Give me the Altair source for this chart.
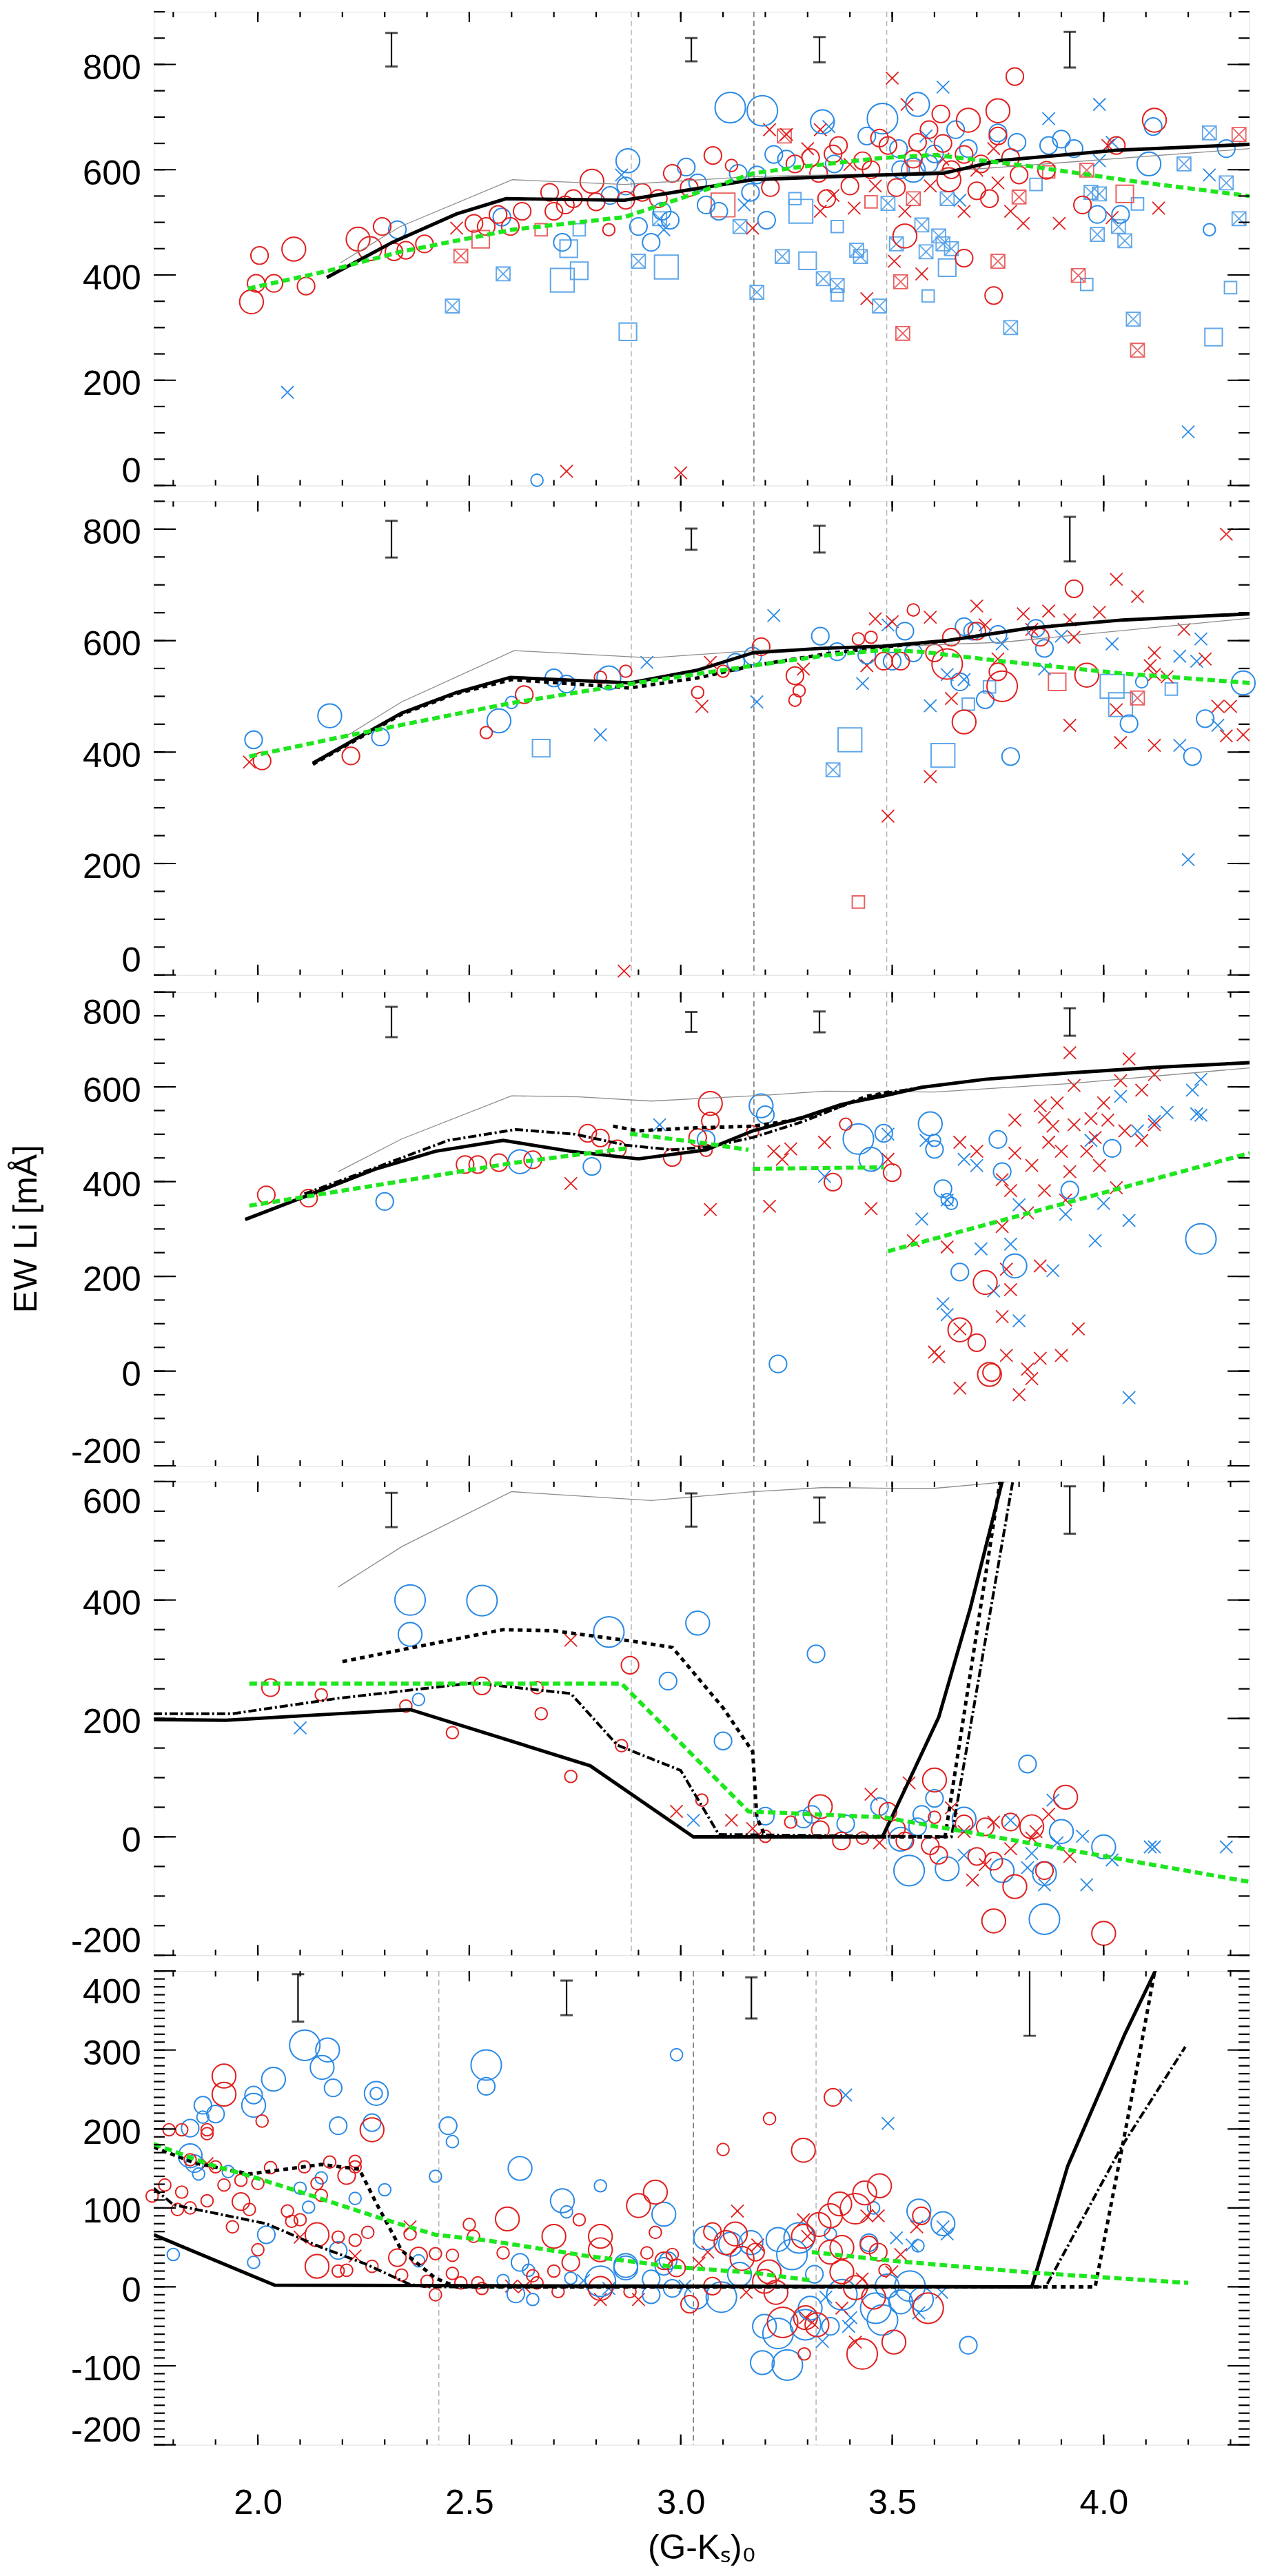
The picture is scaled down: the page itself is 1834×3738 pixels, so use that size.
import altair as alt
import pandas as pd

FONT = "Liberation Sans"
X_DOMAIN = [1.754, 4.345]
W, H = 1596, 690

RED = "#e0201f"
BLUE = "#2a8ae6"
LBLUE = "#4f9ee8"
LRED = "#e85050"
GREEN = "#1ee61e"

X_MAJOR = [2.0, 2.5, 3.0, 3.5, 4.0]
X_MINOR = [round(1.8 + 0.1 * i, 1) for i in range(26)]
Y_TITLE = "EW Li [mÅ]"
X_TITLE = "(G-Kₛ)₀"

# ---------------- panel 1 ----------------
P1_YDOM = [0, 900]
P1_VX = [2.883, 3.173, 3.487]
P1_ERR_X = [2.316, 3.025, 3.328, 3.92]
P1_ERR_C = [828, 828, 828, 828]
P1_ERR_H = [32, 22, 24, 34]
P1_RED_CIRC = [
    (1.985, 349, 3), (1.996, 384, 2), (2.004, 437, 2), (2.038, 384, 2), (2.085, 449, 3), (2.114, 379, 2),
    (2.237, 468, 3), (2.265, 450, 3), (2.294, 492, 2), (2.322, 444, 2), (2.35, 447, 2), (2.394, 459, 2),
    (2.511, 498, 2), (2.54, 492, 2), (2.568, 515, 2), (2.597, 492, 2), (2.625, 521, 2), (2.69, 557, 2),
    (2.70, 521, 2), (2.727, 533, 2), (2.746, 545, 2), (2.79, 578, 3), (2.80, 539, 2), (2.83, 486, 1),
    (2.87, 542, 2), (2.909, 557, 2), (2.947, 545, 2), (2.98, 593, 2), (3.02, 566, 2), (3.076, 627, 2),
    (3.12, 608, 1), (3.212, 566, 2), (3.27, 611, 2), (3.307, 623, 2), (3.326, 593, 2), (3.345, 545, 2),
    (3.373, 646, 2), (3.40, 569, 2), (3.43, 617, 2), (3.49, 646, 2), (3.51, 566, 2), (3.53, 474, 3),
    (3.56, 652, 2), (3.587, 676, 2), (3.615, 706, 2), (3.634, 581, 3), (3.67, 629, 2), (3.68, 694, 3),
    (3.71, 611, 2), (3.73, 545, 2), (3.75, 664, 2), (3.75, 712, 3), (3.78, 623, 2), (3.79, 777, 2),
    (3.74, 361, 2), (3.67, 432, 2), (3.865, 599, 2), (3.95, 533, 2), (4.12, 694, 3), (4.03, 646, 2),
    (3.36, 630, 2), (3.45, 600, 2), (3.62, 650, 2), (3.70, 560, 2), (3.80, 590, 2), (3.64, 600, 2),
    (3.55, 620, 2), (3.47, 660, 2),
]
P1_BLUE_CIRC = [
    (2.33, 486, 2), (2.577, 510, 2), (2.72, 462, 2), (2.833, 551, 2), (2.87, 569, 2), (2.875, 617, 3),
    (2.9, 492, 2), (2.93, 462, 2), (2.956, 521, 2), (2.975, 504, 2), (3.013, 605, 2), (3.04, 575, 2),
    (3.06, 533, 2), (3.09, 521, 2), (3.117, 718, 4), (3.136, 593, 2), (3.165, 557, 2), (3.193, 712, 4),
    (3.203, 504, 2), (3.22, 629, 2), (3.335, 691, 3), (3.363, 611, 2), (3.44, 664, 2), (3.477, 697, 4),
    (3.515, 640, 2), (3.55, 599, 3), (3.56, 724, 3), (3.587, 611, 2), (3.65, 676, 2), (3.75, 670, 2),
    (3.795, 652, 2), (3.87, 646, 2), (3.9, 658, 2), (3.93, 640, 2), (3.985, 515, 2), (4.04, 515, 2),
    (4.107, 611, 3), (4.117, 682, 2), (4.25, 486, 1), (4.29, 640, 2), (2.66, 10, 1),
    (3.18, 590, 2), (3.25, 620, 2), (3.60, 630, 2), (3.68, 640, 2), (3.52, 600, 2),
]
P1_RED_X = [
    (2.47, 489), (2.73, 27), (3.0, 24), (3.17, 489), (3.25, 667), (3.33, 676), (3.33, 521), (3.36, 551),
    (3.41, 527), (3.44, 355), (3.5, 774), (3.505, 426), (3.535, 724), (3.53, 521), (3.57, 402), (3.59, 569),
    (3.67, 521), (3.70, 599), (3.75, 575), (3.78, 521), (3.81, 498), (3.895, 498), (4.01, 646), (4.02, 509),
    (4.13, 527), (3.21, 676), (3.46, 569), (3.74, 640), (3.30, 640), (3.62, 620), (3.40, 610),
]
P1_BLUE_X = [
    (2.07, 177), (3.62, 757), (3.99, 724), (3.87, 697), (4.2, 102), (4.25, 590), (4.02, 652), (3.66, 542),
    (2.96, 486), (3.35, 682), (3.58, 664), (2.86, 590), (3.15, 533), (3.99, 617),
]
P1_BLUE_SQ = [
    (2.72, 390, 3), (2.76, 408, 2), (2.735, 450, 2), (2.76, 486, 1), (2.875, 292, 2), (2.966, 415, 3),
    (3.284, 521, 3), (3.30, 427, 2), (3.37, 492, 1), (3.37, 362, 1), (3.585, 360, 1), (3.63, 414, 2),
    (3.84, 572, 1), (3.96, 382, 1), (4.08, 535, 1), (4.26, 282, 2), (4.3, 376, 1), (3.27, 545, 1),
]
P1_BLUE_SQX = [
    (2.46, 341), (2.58, 402), (2.90, 426), (2.95, 507), (3.14, 492), (3.18, 367), (3.24, 435), (3.337, 393),
    (3.37, 380), (3.416, 447), (3.425, 435), (3.47, 341), (3.49, 536), (3.51, 459), (3.57, 495), (3.58, 444),
    (3.61, 474), (3.62, 459), (3.64, 450), (3.63, 545), (3.78, 300), (3.97, 557), (3.99, 554), (3.985, 477),
    (4.035, 492), (4.05, 465), (4.07, 316), (4.19, 611), (4.25, 670), (4.29, 575), (4.32, 507),
]
P1_RED_SQ = [(2.527, 468, 2), (3.45, 539, 1), (4.05, 554, 2), (3.10, 533, 3), (3.87, 596, 1), (3.55, 605, 1), (2.67, 486, 1)]
P1_RED_SQX = [(2.48, 436), (3.245, 664), (3.52, 387), (3.525, 289), (3.55, 545), (3.75, 426), (3.80, 548),
              (3.94, 399), (4.08, 257), (4.32, 667), (3.96, 599)]
P1_SOLID_X = [2.163, 2.318, 2.47, 2.587, 2.867, 3.17, 3.47, 3.62, 3.75, 4.03, 4.345]
P1_SOLID_Y = [395, 462, 516, 545, 542, 581, 590, 593, 617, 637, 648]
P1_GRAY_X = [2.195, 2.337, 2.602, 2.867, 3.17, 3.47, 3.66, 4.345]
P1_GRAY_Y = [423, 492, 581, 572, 587, 592, 599, 640]
P1_GREEN = [([1.977, 2.167, 2.337, 2.602, 2.867, 3.02, 3.17, 3.28, 3.47, 3.6, 3.75, 3.84, 4.07, 4.345],
             [374, 408, 444, 486, 510, 551, 593, 605, 622, 628, 614, 605, 578, 550])]

# ---------------- panel 2 ----------------
P2_YDOM = [0, 850]
P2_VX = [2.883, 3.173, 3.487]
P2_ERR_X = [2.316, 3.025, 3.328, 3.92]
P2_ERR_C = [782, 782, 782, 782]
P2_ERR_H = [33, 19, 24, 40]
P2_RED_CIRC = [
    (2.01, 384, 2), (2.22, 393, 2), (2.54, 435, 1), (2.63, 503, 2), (2.81, 534, 1), (2.87, 545, 1),
    (3.04, 507, 1), (3.1, 545, 1), (3.19, 589, 2), (3.27, 537, 2), (3.27, 493, 1), (3.28, 510, 1),
    (3.42, 603, 1), (3.45, 606, 1), (3.48, 563, 2), (3.52, 563, 2), (3.55, 655, 1), (3.63, 558, 4),
    (3.64, 606, 2), (3.67, 454, 3), (3.70, 617, 2), (3.76, 518, 4), (3.75, 544, 2), (3.85, 606, 2),
    (3.93, 693, 2), (3.96, 538, 3), (3.6, 578, 2),
]
P2_BLUE_CIRC = [
    (1.99, 422, 2), (2.17, 465, 3), (2.29, 427, 2), (2.57, 456, 3), (2.6, 489, 1), (2.70, 533, 2),
    (2.73, 522, 2), (2.83, 533, 3), (3.13, 561, 2), (3.17, 572, 2), (3.33, 608, 2), (3.37, 580, 2),
    (3.44, 574, 2), (3.5, 563, 2), (3.53, 617, 2), (3.55, 578, 2), (3.66, 526, 2), (3.67, 625, 2),
    (3.72, 494, 2), (3.75, 611, 2), (3.84, 622, 2), (3.86, 586, 2), (4.06, 451, 2), (4.09, 526, 1),
    (4.21, 392, 2), (4.24, 460, 2), (4.33, 524, 3), (3.78, 392, 2), (3.69, 617, 2),
]
P2_RED_X = [
    (1.98, 382), (2.866, 7), (3.05, 482), (3.07, 561), (3.29, 549), (3.44, 555), (3.46, 639), (3.5, 634),
    (3.59, 356), (3.49, 285), (3.59, 642), (3.64, 496), (3.70, 662), (3.72, 628), (3.75, 567), (3.81, 648),
    (3.83, 620), (3.87, 653), (3.92, 637), (3.92, 448), (3.93, 606), (3.99, 651), (4.03, 710), (4.03, 476),
    (4.04, 417), (4.08, 679), (4.12, 578), (4.11, 555), (4.12, 412), (4.15, 535), (4.19, 620), (4.24, 567),
    (4.27, 482), (4.29, 791), (4.30, 482), (4.33, 431), (4.29, 429), (4.12, 539),
]
P2_BLUE_X = [
    (2.81, 431), (2.92, 561), (3.18, 490), (3.22, 645), (3.43, 523), (3.49, 628), (3.59, 483), (3.63, 539),
    (3.67, 530), (3.76, 594), (3.86, 549), (3.9, 608), (4.02, 594), (4.18, 572), (4.18, 412), (4.23, 603),
    (4.2, 207), (4.27, 448), (4.22, 563),
]
P2_BLUE_SQ = [(2.67, 407, 2), (3.4, 422, 3), (3.62, 394, 3), (3.68, 486, 1), (3.73, 517, 1), (4.02, 518, 3),
              (4.04, 485, 3), (4.16, 513, 1)]
P2_BLUE_SQX = [(3.36, 368)]
P2_RED_SQ = [(3.89, 526, 2), (3.42, 131, 1)]
P2_RED_SQX = [(4.08, 497)]
P2_SOLID_X = [2.13, 2.34, 2.47, 2.597, 2.88, 3.04, 3.17, 3.33, 3.477, 3.63, 3.82, 4.045, 4.345]
P2_SOLID_Y = [380, 470, 507, 534, 524, 547, 578, 586, 590, 600, 622, 637, 648]
P2_DOT_X = [2.13, 2.34, 2.47, 2.6, 2.88, 3.04, 3.17, 3.36, 3.5, 3.63]
P2_DOT_Y = [378, 468, 505, 530, 515, 533, 555, 578, 590, 600]
P2_GRAY_X = [2.21, 2.34, 2.606, 2.93, 3.19, 3.48, 3.76, 4.345]
P2_GRAY_Y = [429, 490, 582, 569, 583, 589, 597, 640]
P2_GREEN = [([1.98, 2.19, 2.6, 2.87, 3.17, 3.36, 3.48, 3.57, 3.76, 4.045, 4.345],
             [392, 426, 488, 521, 555, 575, 583, 580, 563, 541, 524])]

# ---------------- panel 3 ----------------
P3_YDOM = [-200, 800]
P3_VX = [2.883, 3.173, 3.487]
P3_ERR_X = [2.316, 3.025, 3.328, 3.92]
P3_ERR_C = [737, 737, 737, 737]
P3_ERR_H = [32, 21, 22, 29]
P3_RED_CIRC = [
    (2.02, 372, 2), (2.12, 365, 2), (2.49, 436, 2), (2.52, 436, 2), (2.57, 440, 2), (2.65, 446, 2),
    (2.78, 502, 2), (2.81, 492, 2), (2.85, 469, 2), (2.98, 451, 2), (3.04, 493, 2), (3.07, 565, 3),
    (3.07, 528, 2), (3.06, 466, 1), (3.17, 505, 1), (3.39, 521, 1), (3.36, 399, 2), (3.5, 419, 2),
    (3.66, 87, 3), (3.70, 60, 2), (3.72, 187, 3), (3.73, -7, 3), (3.735, -3, 2),
]
P3_BLUE_CIRC = [
    (2.3, 358, 2), (2.62, 442, 3), (2.79, 432, 2), (3.06, 489, 2), (3.19, 560, 3), (3.2, 541, 2),
    (3.23, 15, 2), (3.42, 490, 4), (3.45, 447, 3), (3.48, 502, 2), (3.59, 522, 3), (3.6, 487, 1),
    (3.6, 468, 2), (3.62, 385, 2), (3.63, 362, 1), (3.64, 354, 1), (3.66, 209, 2), (3.75, 489, 2),
    (3.76, 421, 2), (3.79, 222, 3), (3.92, 382, 2), (4.02, 470, 2), (4.23, 279, 4),
]
P3_RED_X = [
    (2.74, 396), (3.07, 341), (3.21, 348), (3.22, 464), (3.26, 469), (3.24, 447), (3.34, 483), (3.45, 343),
    (3.49, 447), (3.55, 275), (3.6, 40), (3.61, 30), (3.63, 262), (3.66, 483), (3.66, 89), (3.66, -36),
    (3.7, 464), (3.76, 404), (3.76, 305), (3.76, 115), (3.77, 33), (3.77, 215), (3.78, 172), (3.78, 381),
    (3.79, 460), (3.79, 530), (3.8, -50), (3.82, 334), (3.82, 4), (3.83, -16), (3.83, 434), (3.85, 222),
    (3.85, 27), (3.86, 381), (3.86, 536), (3.87, 483), (3.88, 517), (3.89, 566), (3.9, 464), (3.9, 33),
    (3.93, 520), (3.94, 89), (3.92, 421), (3.93, 603), (3.92, 672), (3.96, 464), (3.97, 533), (3.98, 493),
    (3.99, 434), (4.0, 566), (4.01, 530), (4.03, 387), (4.04, 613), (4.05, 507), (4.06, 659), (4.09, 593),
    (4.09, 487), (4.12, 626), (4.12, 520), (3.91, 361), (3.85, 560),
]
P3_BLUE_X = [
    (2.95, 520), (3.34, 411), (3.49, 500), (3.57, 321), (3.58, 487), (3.62, 142), (3.63, 119), (3.63, 361),
    (3.67, 447), (3.7, 434), (3.71, 258), (3.74, 169), (3.78, 268), (3.8, 106), (3.8, 351), (3.88, 212),
    (3.91, 331), (3.97, 487), (3.98, 275), (4.0, 354), (4.04, 580), (4.06, 318), (4.06, -56), (4.08, 507),
    (4.12, 527), (4.15, 546), (4.21, 593), (4.22, 543), (4.23, 616), (4.23, 540),
]
P3_SOLID_X = [1.97, 2.11, 2.28, 2.42, 2.58, 2.74, 2.9, 3.06, 3.17, 3.29, 3.38, 3.48, 3.57, 3.72, 3.91, 4.14, 4.345]
P3_SOLID_Y = [320, 368, 427, 464, 487, 464, 448, 467, 507, 536, 563, 581, 599, 616, 629, 642, 651]
P3_DASHDOT_X = [2.11, 2.28, 2.45, 2.61, 2.75, 2.87, 2.98, 3.07, 3.17, 3.29, 3.40, 3.48, 3.57]
P3_DASHDOT_Y = [374, 430, 487, 510, 500, 477, 467, 474, 493, 527, 566, 586, 599]
P3_DOT_X = [2.84, 2.9, 3.02, 3.17, 3.27, 3.36, 3.44, 3.5]
P3_DOT_Y = [517, 507, 513, 517, 530, 553, 580, 590]
P3_GRAY_X = [2.19, 2.34, 2.6, 2.76, 2.93, 3.21, 3.34, 3.60, 3.92, 4.345]
P3_GRAY_Y = [421, 490, 581, 579, 570, 583, 591, 589, 607, 640]
P3_GREEN = [([1.98, 2.34, 2.6, 2.87], [349, 401, 439, 470]),
            ([2.88, 3.04, 3.16], [501, 483, 467]),
            ([3.17, 3.48], [427, 430]),
            ([3.49, 4.345], [253, 460])]

# ---------------- panel 4 ----------------
P4_YDOM = [-200, 600]
P4_VX = [2.883, 3.173, 3.487]
P4_ERR_X = [2.316, 3.025, 3.328, 3.92]
P4_ERR_C = [552, 552, 552, 552]
P4_ERR_H = [29, 28, 21, 40]
P4_RED_CIRC = [
    (2.03, 252, 2), (2.15, 240, 1), (2.35, 221, 1), (2.46, 176, 1), (2.53, 255, 2), (2.66, 252, 1),
    (2.67, 208, 1), (2.74, 102, 1), (2.86, 154, 1), (2.88, 290, 2), (3.05, 62, 1), (3.2, 1, 1),
    (3.26, 25, 1), (3.33, 51, 3), (3.33, 12, 2), (3.38, -7, 2), (3.43, -2, 1), (3.49, 43, 2),
    (3.51, 14, 2), (3.53, -7, 2), (3.59, -15, 2), (3.6, 96, 3), (3.6, 33, 1), (3.61, -31, 2),
    (3.70, -33, 2), (3.72, 17, 2), (3.74, -41, 2), (3.74, -142, 3), (3.79, -84, 3), (3.78, 25, 2),
    (3.83, 17, 3), (3.86, -57, 2), (3.91, 67, 3), (4.0, -163, 3), (3.67, 22, 2),
]
P4_BLUE_CIRC = [
    (2.36, 400, 4), (2.53, 399, 4), (2.36, 342, 3), (2.38, 232, 1), (2.83, 346, 4), (2.97, 263, 2),
    (3.04, 361, 3), (3.1, 162, 2), (3.32, 309, 2), (3.2, 35, 2), (3.29, 30, 2), (3.31, 38, 2),
    (3.39, 22, 2), (3.47, 51, 2), (3.54, -57, 4), (3.56, 17, 2), (3.57, 38, 2), (3.6, 65, 2),
    (3.63, -54, 3), (3.67, 30, 3), (3.76, -57, 3), (3.82, 123, 2), (3.86, -62, 3), (3.9, 9, 3),
    (4.0, -17, 3), (3.86, -139, 4), (3.52, -4, 3),
]
P4_RED_X = [
    (2.74, 332), (2.99, 43), (3.12, 28), (3.17, 14), (3.45, 72), (3.47, -10), (3.54, 91), (3.64, 49),
    (3.67, 9), (3.69, -73), (3.74, 25), (3.78, -20), (3.83, -2), (3.87, 38), (3.92, -33), (3.72, -47), (3.84, 9),
]
P4_BLUE_X = [
    (2.1, 184), (3.03, 28), (3.67, -31), (3.78, 28), (3.83, -28), (3.82, -52), (3.88, 62), (3.89, -10),
    (3.95, 1), (3.96, -81), (4.02, -39), (4.11, -17), (4.12, -17), (4.29, -17), (3.86, -81),
]
P4_SOLID_X = [1.754, 1.924, 2.36, 2.786, 3.03, 3.477, 3.53, 3.61, 3.685, 3.76, 3.79]
P4_SOLID_Y = [198, 197, 215, 120, 0, 0, 80, 202, 387, 600, 680]
P4_DASHDOT_X = [1.754, 1.94, 2.19, 2.51, 2.74, 2.85, 3.0, 3.09, 3.64, 3.785, 3.80]
P4_DASHDOT_Y = [208, 208, 234, 260, 242, 155, 112, 4, 0, 600, 660]
P4_DOT_X = [2.2, 2.58, 2.7, 2.89, 2.98, 3.1, 3.17, 3.18, 3.2, 3.625, 3.755, 3.77]
P4_DOT_Y = [296, 350, 348, 330, 320, 218, 144, 33, 0, 0, 600, 670]
P4_GRAY_X = [2.19, 2.34, 2.6, 2.93, 3.17, 3.34, 3.59, 3.76, 4.345]
P4_GRAY_Y = [422, 490, 583, 568, 583, 590, 588, 599, 640]
P4_GREEN = [([1.98, 2.86, 3.16, 3.48, 4.345], [259, 259, 43, 33, -76])]

# ---------------- panel 5 ----------------
P5_YDOM = [-200, 400]
P5_VX = [2.428, 3.03, 3.32]
P5_ERR_X = [2.095, 2.73, 3.167, 3.825]
P5_ERR_C = [366, 366, 366, 366]
P5_ERR_H = [30, 22, 26, 48]
P5_BLUE_CIRC = [
    (2.111, 306, 4), (2.165, 300, 3), (2.152, 278, 3), (2.178, 252, 2), (2.037, 263, 3), (1.99, 243, 2),
    (1.99, 230, 3), (1.87, 230, 2), (1.90, 219, 2), (1.87, 215, 1), (1.84, 201, 2), (2.28, 245, 3),
    (2.28, 245, 1), (2.19, 204, 2), (2.27, 208, 2), (2.54, 281, 4), (2.54, 254, 2), (2.45, 204, 2),
    (2.46, 184, 1), (1.84, 166, 3), (1.85, 156, 2), (1.86, 143, 1), (1.93, 146, 1), (2.42, 140, 1),
    (2.62, 150, 3), (2.30, 123, 1), (2.23, 112, 1), (2.15, 138, 1), (2.10, 125, 1), (2.12, 101, 1),
    (2.72, 109, 3), (2.81, 128, 1), (2.73, 95, 1), (2.96, 92, 3), (2.99, 294, 1), (2.02, 66, 2),
    (1.80, 41, 1), (1.99, 31, 1), (2.19, 46, 2), (2.38, 33, 1), (2.62, 31, 2), (2.64, 21, 1),
    (2.58, 8, 1), (2.65, -16, 1), (2.61, -9, 2), (2.74, 11, 1), (2.81, 7, 4), (2.87, 24, 3), (2.96, 26, 2),
    (2.97, 33, 2), (2.87, 27, 3), (2.93, 10, 2), (2.98, -2, 2), (2.93, -10, 2), (3.68, -74, 2),
    (3.059, 62, 3), (3.118, 54, 3), (3.166, 56, 3), (3.23, 60, 3), (3.28, 62, 4), (3.263, 41, 4),
    (3.139, 16, 3), (3.096, -13, 4), (3.037, -13, 3), (3.198, -50, 3), (3.23, -59, 4), (3.295, -48, 4),
    (3.306, -27, 3), (3.354, -50, 2), (3.381, -10, 4), (3.461, -27, 4), (3.477, -42, 4), (3.52, -19, 3),
    (3.542, 1, 4), (3.569, -16, 3), (3.563, 96, 3), (3.62, 80, 3), (3.445, 56, 2), (3.456, 100, 1),
    (3.561, 52, 1), (3.193, -96, 3), (3.252, -99, 4), (3.354, 67, 1), (3.316, 16, 2), (3.488, 1, 3),
]
P5_RED_CIRC = [
    (1.92, 267, 3), (1.92, 244, 3), (1.79, 199, 1), (1.82, 199, 1), (1.88, 199, 1), (1.88, 194, 1),
    (2.01, 210, 1), (1.84, 161, 1), (1.90, 152, 1), (1.92, 129, 1), (1.96, 135, 1), (2.00, 131, 1),
    (2.03, 151, 1), (2.11, 152, 1), (2.17, 158, 1), (2.23, 159, 1), (2.23, 152, 1), (2.21, 141, 2),
    (2.14, 131, 1), (2.15, 116, 1), (1.78, 129, 1), (1.82, 120, 1), (1.75, 115, 1), (1.88, 109, 1),
    (1.96, 108, 2), (1.98, 98, 1), (1.81, 98, 1), (1.84, 100, 1), (1.94, 76, 1), (2.07, 96, 1),
    (2.08, 83, 1), (2.10, 85, 1), (2.14, 66, 3), (2.19, 63, 1), (2.23, 59, 1), (2.26, 69, 1),
    (2.00, 47, 1), (2.14, 26, 3), (2.19, 20, 1), (2.21, 21, 1), (2.27, 26, 1), (2.33, 37, 2),
    (2.36, 67, 1), (2.34, 15, 1), (2.38, 39, 2), (2.42, 42, 1), (2.46, 40, 1), (2.46, 17, 1),
    (2.48, 5, 1), (2.52, 5, 1), (2.53, -2, 1), (2.42, -10, 1), (2.40, 7, 1), (2.5, 79, 1), (2.51, 64, 1),
    (2.59, 86, 3), (2.70, 64, 3), (2.76, 85, 1), (2.90, 103, 3), (2.94, 120, 3), (2.94, 69, 1),
    (2.81, 64, 3), (2.81, 47, 3), (2.70, 20, 1), (2.65, 14, 1), (2.58, 43, 1), (2.71, -6, 1),
    (2.66, 5, 1), (2.88, -6, 1), (2.92, 43, 1), (2.27, 199, 3), (2.74, 31, 2), (2.81, -2, 3),
    (2.98, 41, 1), (2.99, 24, 2), (2.96, 33, 2),
    (3.36, 240, 2), (3.21, 213, 1), (3.10, 174, 1), (3.29, 173, 3), (3.47, 128, 3),
    (3.075, 70, 2), (3.107, 56, 3), (3.129, 67, 3), (3.145, 36, 3), (3.075, 1, 2), (3.021, -22, 2),
    (3.198, 7, 3), (3.209, 19, 3), (3.225, -7, 3), (3.241, -45, 4), (3.295, -39, 3), (3.29, 64, 3),
    (3.327, 79, 3), (3.354, 90, 3), (3.376, 105, 3), (3.413, 99, 4), (3.435, 119, 3), (3.381, 50, 3),
    (3.354, 44, 3), (3.381, 19, 3), (3.413, -1, 3), (3.456, -13, 3), (3.445, 53, 2), (3.467, 44, 2),
    (3.569, 90, 2), (3.585, -27, 4), (3.504, -70, 3), (3.429, -85, 4), (3.292, -85, 1), (3.322, -48, 3),
    (3.483, 21, 1), (3.177, 44, 2),
]
P5_RED_X = [
    (1.88, 156), (2.10, 63), (2.23, 39), (2.36, 76), (2.60, 1), (2.63, 0), (2.90, -16), (2.81, -16),
    (3.134, 96), (3.043, 30), (3.064, 44), (3.29, 85), (3.30, 64), (3.44, 90), (3.467, 90), (3.558, 76),
    (3.52, 41), (3.381, -27), (3.295, -39), (3.311, -45), (3.413, -70), (3.499, 19), (3.429, 10),
    (3.155, -7), (3.182, 53),
]
P5_BLUE_X = [
    (2.77, 8), (2.83, -2), (3.39, 243), (3.49, 207), (3.51, 62), (3.547, 53), (3.62, 76), (3.63, 67),
    (3.343, -13), (3.402, -39), (3.397, -50), (3.335, -69), (3.617, -7), (3.563, -33), (3.01, 1),
]
P5_SOLID_X = [1.754, 2.04, 3.83, 3.915, 4.05, 4.12, 4.16]
P5_SOLID_Y = [66, 2, 0, 153, 320, 398, 450]
P5_DOT_X = [1.754, 1.85, 1.98, 2.15, 2.24, 2.28, 2.34, 2.42, 2.47, 3.98, 4.06, 4.12, 4.14]
P5_DOT_Y = [177, 157, 143, 155, 149, 106, 46, 11, 0, 0, 222, 398, 440]
P5_DASHDOT_X = [1.754, 1.8, 2.02, 2.15, 2.25, 2.36, 2.4, 3.863, 4.044, 4.193]
P5_DASHDOT_Y = [125, 104, 80, 50, 30, 3, 0, 0, 179, 304]
P5_GREEN = [([1.754, 1.88, 1.99, 2.09, 2.17, 2.29, 2.37, 2.42, 2.54, 2.66, 2.78, 2.87, 2.99, 3.17, 3.31],
             [181, 156, 139, 122, 108, 87, 74, 66, 59, 49, 39, 33, 25, 18, 8]),
            ([3.31, 3.50, 3.83, 4.2], [44, 33, 18, 5])]

XPATH = "M-1,-1L1,1M-1,1L1,-1"
SQXPATH = "M-1,-1L1,-1L1,1L-1,1Z M-1,-1L1,1M-1,1L1,-1"
SIZE_SCALE = alt.Scale(type="pow", exponent=2, domain=[1, 4], range=[314, 1963])
LEFT_EXTENT = 215


def df_line(xs, ys):
    return pd.DataFrame({"x": xs, "y": ys, "i": list(range(len(xs)))})


def make_panel(p, show_x, show_ytitle):
    xs = alt.Scale(domain=X_DOMAIN, nice=False, zero=False)
    ys = alt.Scale(domain=p["ydom"], nice=False, zero=False)
    yaxis = alt.Axis(values=p["ymajor"], ticks=False, tickSize=0, domain=False, grid=False,
                     labelFont=FONT, labelFontSize=51, labelColor="black", labelPadding=19,
                     labelFlush=True, labelOffset=6, labelExpr="datum.value + ''", title=None)
    if show_x:
        xaxis = alt.Axis(values=X_MAJOR, ticks=False, tickSize=0, domain=False, grid=False,
                         labelFont=FONT, labelFontSize=51, labelColor="black", labelPadding=60,
                         labelExpr="format(datum.value, '.1f')",
                         title=X_TITLE, titleFont=FONT, titleFontSize=50, titleFontWeight="normal",
                         titleColor="black", titlePadding=16)
    else:
        xaxis = None

    def X(f="x"):
        return alt.X(f"{f}:Q", scale=xs, axis=xaxis)

    def Y(f="y"):
        return alt.Y(f"{f}:Q", scale=ys, axis=yaxis)

    layers = []
    # vertical reference lines
    vdf = pd.DataFrame({"x": p["vx"], "kind": ["light", "dark", "light"]})
    layers.append(alt.Chart(vdf).mark_rule(strokeDash=[8, 5], strokeWidth=1.5).encode(
        x=X(), color=alt.Color("kind:N", scale=alt.Scale(domain=["light", "dark"], range=["#b4b4b4", "#707070"]),
                               legend=None)))

    # points
    def circles(lst, color):
        df = pd.DataFrame(lst, columns=["x", "y", "s"])
        return alt.Chart(df).mark_point(shape="circle", filled=False, strokeWidth=2, color=color, opacity=1).encode(
            x=X(), y=Y(), size=alt.Size("s:Q", scale=SIZE_SCALE, legend=None))

    def squares(lst, color):
        df = pd.DataFrame(lst, columns=["x", "y", "s"])
        return alt.Chart(df).mark_point(shape="square", filled=False, strokeWidth=2, color=color, opacity=0.9).encode(
            x=X(), y=Y(), size=alt.Size("s:Q", scale=SIZE_SCALE, legend=None))

    def xs_marks(lst, color, shape=XPATH, size=330, opacity=1):
        df = pd.DataFrame(lst, columns=["x", "y"])
        return alt.Chart(df).mark_point(shape=shape, filled=False, strokeWidth=1.8, size=size, color=color,
                                        opacity=opacity).encode(x=X(), y=Y())

    if p.get("blue_sq"):
        layers.append(squares(p["blue_sq"], LBLUE))
    if p.get("blue_sqx"):
        layers.append(xs_marks(p["blue_sqx"], LBLUE, SQXPATH, 400, 0.9))
    if p.get("red_sq"):
        layers.append(squares(p["red_sq"], LRED))
    if p.get("red_sqx"):
        layers.append(xs_marks(p["red_sqx"], LRED, SQXPATH, 400, 0.9))
    if p.get("blue_x"):
        layers.append(xs_marks(p["blue_x"], BLUE))
    if p.get("red_x"):
        layers.append(xs_marks(p["red_x"], RED))
    if p.get("blue_c"):
        layers.append(circles(p["blue_c"], BLUE))
    if p.get("red_c"):
        layers.append(circles(p["red_c"], RED))

    # lines
    def line(xv, yv, **kw):
        return alt.Chart(df_line(xv, yv)).mark_line(clip=True, **kw).encode(
            x=X(), y=Y(), order=alt.Order("i:Q"))

    if p.get("gray"):
        layers.append(line(*p["gray"], color="#8c8c8c", strokeWidth=1.3))
    for key, kw in [("dashdot", dict(color="black", strokeWidth=4, strokeDash=[12, 4, 3, 4])),
                    ("dot", dict(color="black", strokeWidth=5, strokeDash=[7, 6])),
                    ("solid", dict(color="black", strokeWidth=5))]:
        if p.get(key):
            layers.append(line(*p[key], **kw))
    gdf = pd.concat([df_line(sx, sy).assign(seg=k) for k, (sx, sy) in enumerate(p["green"])])
    layers.append(alt.Chart(gdf).mark_line(clip=True, color=GREEN, strokeWidth=6, strokeDash=[11, 6]).encode(
        x=X(), y=Y(), order=alt.Order("i:Q"), detail="seg:N"))

    # error bars
    edf = pd.DataFrame({"x": p["err_x"], "c": p["err_c"], "h": p["err_h"]})
    eb = alt.Chart(edf).transform_calculate(lo="datum.c - datum.h", hi="datum.c + datum.h")
    layers.append(eb.mark_rule(color="black", strokeWidth=2.2, clip=True).encode(x=X(), y=Y("lo"), y2="hi:Q"))
    layers.append(eb.mark_tick(orient="horizontal", color="black", size=18, thickness=3, clip=True).encode(
        x=X(), y=Y("lo")))
    layers.append(eb.mark_tick(orient="horizontal", color="black", size=18, thickness=3, clip=True).encode(
        x=X(), y=Y("hi")))

    # inward ticks (IDL style) on all four sides
    ymaj = pd.DataFrame({"t": p["ymajor"]})
    ymin = pd.DataFrame({"t": p["yminor"]})
    for d, L in [(ymaj, 32), (ymin, 16)]:
        layers.append(alt.Chart(d).mark_rule(color="black", strokeWidth=2.2).encode(
            y=Y("t"), x=alt.value(0), x2=alt.value(L)))
        layers.append(alt.Chart(d).mark_rule(color="black", strokeWidth=2.2).encode(
            y=Y("t"), x=alt.value(W - L), x2=alt.value(W)))
    xmaj = pd.DataFrame({"t": X_MAJOR})
    xmin = pd.DataFrame({"t": X_MINOR})
    for d, L in [(xmaj, 15), (xmin, 8)]:
        layers.append(alt.Chart(d).mark_rule(color="black", strokeWidth=2.2).encode(
            x=X("t"), y=alt.value(H), y2=alt.value(H - L)))
        layers.append(alt.Chart(d).mark_rule(color="black", strokeWidth=2.2).encode(
            x=X("t"), y=alt.value(0), y2=alt.value(L)))

    # invisible spacer so every panel reserves the same room on the left
    layers.append(alt.Chart(pd.DataFrame({"k": [0]})).mark_rule(strokeOpacity=0, strokeWidth=1).encode(
        x=alt.value(-LEFT_EXTENT), x2=alt.value(-LEFT_EXTENT + 2), y=alt.value(H / 2)))

    if show_ytitle:
        layers.append(alt.Chart(pd.DataFrame({"t": [Y_TITLE]})).mark_text(
            angle=270, font=FONT, fontSize=49, color="black", baseline="middle", align="center").encode(
            text="t:N", x=alt.value(-186), y=alt.value(H / 2)))

    return alt.layer(*layers).properties(width=W, height=H)


def rng(a, b, step):
    return list(range(a, b + 1, step))


panels = [
    dict(ydom=P1_YDOM, ymajor=rng(0, 800, 200), yminor=rng(0, 900, 50), vx=P1_VX,
         err_x=P1_ERR_X, err_c=P1_ERR_C, err_h=P1_ERR_H,
         red_c=P1_RED_CIRC, blue_c=P1_BLUE_CIRC, red_x=P1_RED_X, blue_x=P1_BLUE_X,
         blue_sq=P1_BLUE_SQ, blue_sqx=P1_BLUE_SQX, red_sq=P1_RED_SQ, red_sqx=P1_RED_SQX,
         solid=(P1_SOLID_X, P1_SOLID_Y), gray=(P1_GRAY_X, P1_GRAY_Y), green=P1_GREEN),
    dict(ydom=P2_YDOM, ymajor=rng(0, 800, 200), yminor=rng(0, 850, 50), vx=P2_VX,
         err_x=P2_ERR_X, err_c=P2_ERR_C, err_h=P2_ERR_H,
         red_c=P2_RED_CIRC, blue_c=P2_BLUE_CIRC, red_x=P2_RED_X, blue_x=P2_BLUE_X,
         blue_sq=P2_BLUE_SQ, blue_sqx=P2_BLUE_SQX, red_sq=P2_RED_SQ, red_sqx=P2_RED_SQX,
         solid=(P2_SOLID_X, P2_SOLID_Y), dot=(P2_DOT_X, P2_DOT_Y), gray=(P2_GRAY_X, P2_GRAY_Y), green=P2_GREEN),
    dict(ydom=P3_YDOM, ymajor=rng(-200, 800, 200), yminor=rng(-200, 800, 50), vx=P3_VX,
         err_x=P3_ERR_X, err_c=P3_ERR_C, err_h=P3_ERR_H,
         red_c=P3_RED_CIRC, blue_c=P3_BLUE_CIRC, red_x=P3_RED_X, blue_x=P3_BLUE_X,
         solid=(P3_SOLID_X, P3_SOLID_Y), dashdot=(P3_DASHDOT_X, P3_DASHDOT_Y), dot=(P3_DOT_X, P3_DOT_Y),
         gray=(P3_GRAY_X, P3_GRAY_Y), green=P3_GREEN),
    dict(ydom=P4_YDOM, ymajor=rng(-200, 600, 200), yminor=rng(-200, 600, 50), vx=P4_VX,
         err_x=P4_ERR_X, err_c=P4_ERR_C, err_h=P4_ERR_H,
         red_c=P4_RED_CIRC, blue_c=P4_BLUE_CIRC, red_x=P4_RED_X, blue_x=P4_BLUE_X,
         solid=(P4_SOLID_X, P4_SOLID_Y), dashdot=(P4_DASHDOT_X, P4_DASHDOT_Y), dot=(P4_DOT_X, P4_DOT_Y),
         gray=(P4_GRAY_X, P4_GRAY_Y), green=P4_GREEN),
    dict(ydom=P5_YDOM, ymajor=rng(-200, 400, 100), yminor=rng(-200, 400, 10), vx=P5_VX,
         err_x=P5_ERR_X, err_c=P5_ERR_C, err_h=P5_ERR_H,
         red_c=P5_RED_CIRC, blue_c=P5_BLUE_CIRC, red_x=P5_RED_X, blue_x=P5_BLUE_X,
         solid=(P5_SOLID_X, P5_SOLID_Y), dashdot=(P5_DASHDOT_X, P5_DASHDOT_Y), dot=(P5_DOT_X, P5_DOT_Y),
         green=P5_GREEN),
]

charts = [make_panel(p, show_x=(i == 4), show_ytitle=(i == 2)) for i, p in enumerate(panels)]

chart = alt.vconcat(*charts, spacing=15).properties(
    padding={"left": 0, "top": 0, "right": 0, "bottom": 0}
).configure_view(stroke="black", strokeWidth=3).configure(background="white")

chart.save("out.html", embed_options={"renderer": "svg", "actions": False})
